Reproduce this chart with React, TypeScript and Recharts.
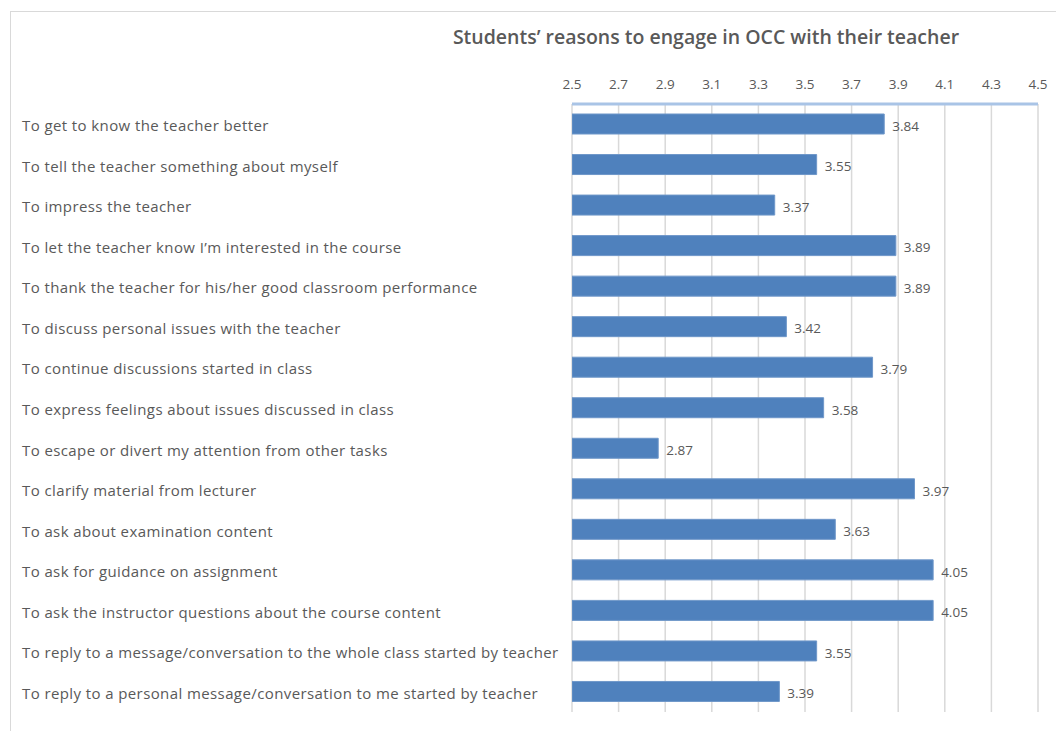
import React from "react";
import { BarChart, Bar, XAxis, YAxis, CartesianGrid, LabelList } from "recharts";

const reasons = [
  "To get to know the teacher better",
  "To tell the teacher something about myself",
  "To impress the teacher",
  "To let the teacher know I\u2019m interested in the course",
  "To thank the teacher for his/her good classroom performance",
  "To discuss personal issues with the teacher",
  "To continue discussions started in class",
  "To express feelings about issues discussed in class",
  "To escape or divert my attention from other tasks",
  "To clarify material from lecturer",
  "To ask about examination content",
  "To ask for guidance on assignment",
  "To ask the instructor questions about the course content",
  "To reply to a message/conversation to the whole class started by teacher",
  "To reply to a personal message/conversation to me started by teacher",
];

const means = [3.84, 3.55, 3.37, 3.89, 3.89, 3.42, 3.79, 3.58, 2.87, 3.97, 3.63, 4.05, 4.05, 3.55, 3.39];

const xTicks = [2.5, 2.7, 2.9, 3.1, 3.3, 3.5, 3.7, 3.9, 4.1, 4.3, 4.5];

const data = reasons.map((name, i) => ({ name, value: means[i] }));

const FONT = "'Open Sans', sans-serif";
const GREY = "#595959";

const LeftTick = (props: any) => {
  const { y, payload } = props;
  return (
    <text
      x={22}
      y={y}
      dy={7}
      textAnchor="start"
      fontSize={15}
      fill={GREY}
      fontFamily={FONT}
      style={{ letterSpacing: "0.4px" }}
    >
      {payload.value}
    </text>
  );
};

export default function App() {
  return (
    <div style={{ position: "absolute", left: 0, top: 0, width: 1056, height: 731, background: "#fff" }}>
      <div
        style={{
          position: "absolute",
          left: 10,
          top: 11,
          width: 1046,
          height: 720,
          borderTop: "1px solid #d9d9d9",
          borderLeft: "1px solid #d9d9d9",
          boxSizing: "border-box",
        }}
      />
      <div
        style={{
          position: "absolute",
          left: 352,
          width: 708,
          top: 23,
          textAlign: "center",
          fontFamily: FONT,
          fontWeight: 600,
          fontSize: 19.5,
          color: GREY,
        }}
      >
        Students’ reasons to engage in OCC with their teacher
      </div>
      <div style={{ position: "absolute", left: 0, top: 0 }}>
        <BarChart
          width={1056}
          height={731}
          data={data}
          layout="vertical"
          margin={{ top: 74, right: 18, left: 0, bottom: 19 }}
          barSize={20}
        >
          <CartesianGrid horizontal={false} stroke="#d9d9d9" strokeWidth={1.5} />
          <XAxis
            type="number"
            orientation="top"
            domain={[2.5, 4.5]}
            ticks={xTicks}
            tickFormatter={(v) => Number(v).toFixed(1)}
            axisLine={{ stroke: "#a9c4e6", strokeWidth: 3 }}
            tickLine={false}
            height={30}
            tick={{ fontSize: 13.5, fill: GREY, fontFamily: FONT, dy: -7 }}
            interval={0}
            allowDataOverflow
          />
          <YAxis
            type="category"
            dataKey="name"
            width={572}
            axisLine={false}
            tickLine={false}
            tick={<LeftTick />}
            interval={0}
          />
          <Bar dataKey="value" fill="#4f81bd" stroke="#6f97c9" strokeWidth={1} isAnimationActive={false}>
            <LabelList
              dataKey="value"
              position="right"
              offset={8}
              formatter={(v: any) => Number(v).toFixed(2)}
              style={{ fontSize: 13.5, fill: GREY, fontFamily: FONT }}
              dy={2}
            />
          </Bar>
        </BarChart>
      </div>
    </div>
  );
}
